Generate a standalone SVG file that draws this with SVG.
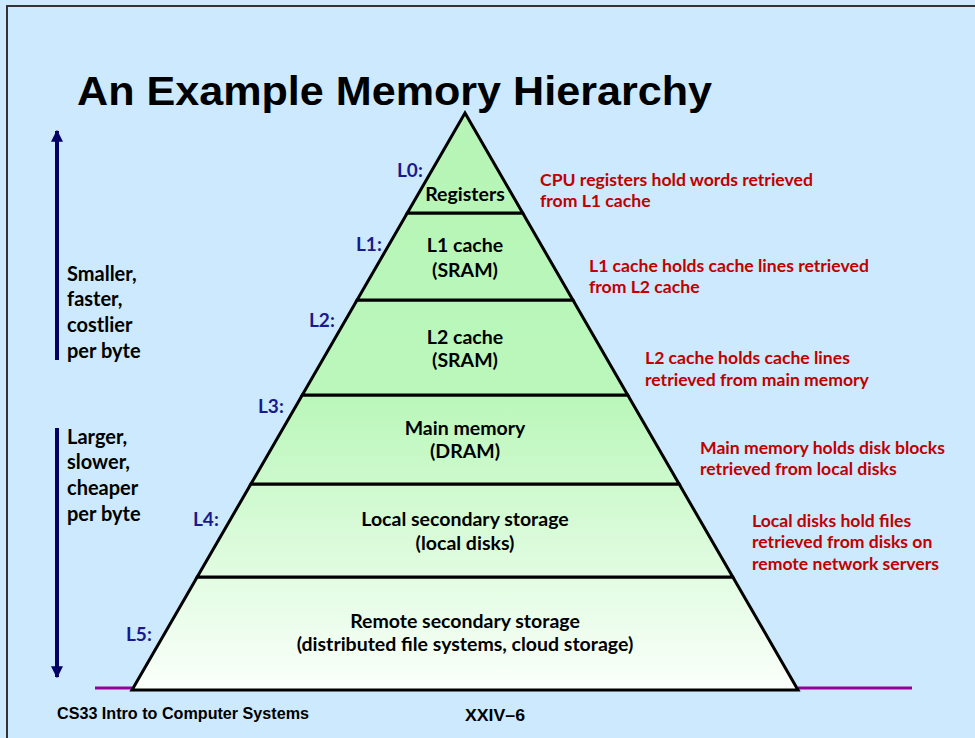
<svg xmlns="http://www.w3.org/2000/svg" width="975" height="738" viewBox="0 0 975 738">
<style>
.lvl{fill:url(#pg);stroke:#000;stroke-width:3;stroke-linejoin:miter}
.nm{font-family:Lato,"Open Sans","Liberation Sans",sans-serif;font-weight:bold;font-size:19.5px;fill:#000;text-anchor:middle}
.lb{font-family:Lato,"Open Sans","Liberation Sans",sans-serif;font-weight:bold;font-size:19px;fill:#1a1a8c}
.rd{font-family:Lato,"Open Sans","Liberation Sans",sans-serif;font-weight:bold;font-size:17.6px;fill:#c00000}
.lt{font-family:Lato,"Open Sans","Liberation Sans",sans-serif;font-weight:bold;font-size:20px;fill:#000}
.ft{font-family:"Liberation Sans",Arial,sans-serif;font-weight:bold;font-size:16px;fill:#000}
</style>
<defs>
<linearGradient id="pg" gradientUnits="userSpaceOnUse" x1="0" y1="113" x2="0" y2="690">
<stop offset="0" stop-color="#b6f5b6"/>
<stop offset="0.5" stop-color="#bbf7bb"/>
<stop offset="1" stop-color="#fbfffb"/>
</linearGradient>
<marker id="ah" viewBox="0 0 10 10" refX="9" refY="5" markerWidth="3" markerHeight="3.5" orient="auto" markerUnits="strokeWidth">
<path d="M0,0 L10,5 L0,10 z" fill="#000066"/>
</marker>
</defs>
<rect x="0" y="0" width="975" height="738" fill="#cce9fd"/>
<path d="M7,738 V6 H975" fill="none" stroke="#333" stroke-width="2"/>
<text x="77" y="105" font-family="'Liberation Sans',Arial,sans-serif" font-weight="bold" font-size="40" textLength="635" lengthAdjust="spacingAndGlyphs">An Example Memory Hierarchy</text>

<g id="connectors">
<line x1="95" y1="688" x2="132" y2="688" stroke="#990099" stroke-width="3"/>
<line x1="798" y1="688" x2="912" y2="688" stroke="#990099" stroke-width="3"/>
<line x1="57" y1="360" x2="57" y2="131" stroke="#000066" stroke-width="4" marker-end="url(#ah)"/>
<line x1="57" y1="428" x2="57" y2="677" stroke="#000066" stroke-width="4" marker-end="url(#ah)"/>
</g>

<g id="L5">
<polygon class="lvl" points="197.2,577 732.8,577 798,690 132,690"/>
<text class="nm" x="465" y="628">Remote secondary storage</text>
<text class="nm" x="465" y="651">(distributed file systems, cloud storage)</text>
<text class="lb" x="126" y="641">L5:</text>
</g>
<g id="L4">
<polygon class="lvl" points="250.9,484 679.1,484 732.8,577 197.2,577"/>
<text class="nm" x="465" y="526">Local secondary storage</text>
<text class="nm" x="465" y="550">(local disks)</text>
<text class="lb" x="193" y="526">L4:</text>
</g>
<g id="L3">
<polygon class="lvl" points="302.3,395 627.7,395 679.1,484 250.9,484"/>
<text class="nm" x="465" y="435">Main memory</text>
<text class="nm" x="465" y="458">(DRAM)</text>
<text class="lb" x="258" y="413">L3:</text>
</g>
<g id="L2">
<polygon class="lvl" points="357.1,300 572.9,300 627.7,395 302.3,395"/>
<text class="nm" x="465" y="344">L2 cache</text>
<text class="nm" x="465" y="367">(SRAM)</text>
<text class="lb" x="309" y="327">L2:</text>
</g>
<g id="L1">
<polygon class="lvl" points="407.3,213 522.7,213 572.9,300 357.1,300"/>
<text class="nm" x="465" y="252">L1 cache</text>
<text class="nm" x="465" y="277">(SRAM)</text>
<text class="lb" x="356" y="251">L1:</text>
</g>
<g id="L0">
<polygon class="lvl" points="465,113 522.7,213 407.3,213"/>
<text class="nm" x="465" y="201">Registers</text>
<text class="lb" x="397" y="177">L0:</text>
</g>

<g id="notes">
<text class="rd" x="540" y="186">CPU registers hold words retrieved</text>
<text class="rd" x="540" y="207">from L1 cache</text>
<text class="rd" x="589" y="272">L1 cache holds cache lines retrieved</text>
<text class="rd" x="589" y="293">from L2 cache</text>
<text class="rd" x="645" y="364">L2 cache holds cache lines</text>
<text class="rd" x="645" y="386">retrieved from main memory</text>
<text class="rd" x="700" y="454">Main memory holds disk blocks</text>
<text class="rd" x="700" y="475">retrieved from local disks</text>
<text class="rd" x="752" y="527">Local disks hold files</text>
<text class="rd" x="752" y="548">retrieved from disks on</text>
<text class="rd" x="752" y="570">remote network servers</text>
</g>

<g id="left-notes">
<text class="lt" x="67" y="281">Smaller,</text>
<text class="lt" x="67" y="306">faster,</text>
<text class="lt" x="67" y="332">costlier</text>
<text class="lt" x="67" y="358">per byte</text>
<text class="lt" x="67" y="444">Larger,</text>
<text class="lt" x="67" y="469">slower,</text>
<text class="lt" x="67" y="495">cheaper</text>
<text class="lt" x="67" y="521">per byte</text>
</g>

<g id="footer">
<text class="ft" x="57" y="719" textLength="252" lengthAdjust="spacingAndGlyphs">CS33 Intro to Computer Systems</text>
<text class="ft" x="465" y="721" font-size="18" textLength="60" lengthAdjust="spacingAndGlyphs">XXIV–6</text>
</g>
</svg>
